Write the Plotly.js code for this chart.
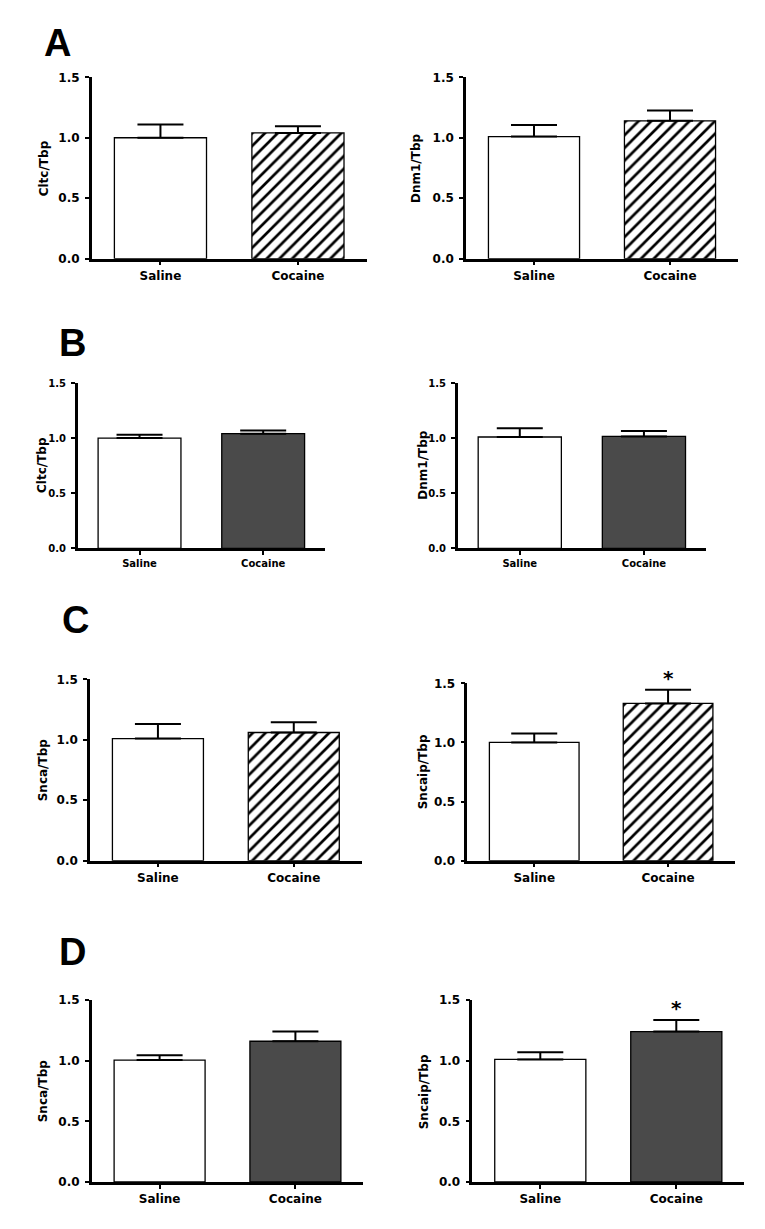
<!DOCTYPE html>
<html>
<head>
<meta charset="utf-8">
<script src="https://cdn.plot.ly/plotly-3.0.1.min.js"></script>
<style>html,body{margin:0;padding:0;background:#fff;}#chart{width:765px;height:1229px;}</style>
</head>
<body>
<div id="chart"></div>
<script>
// ---- data ----
const categories = ['Saline', 'Cocaine'];
const panelLetters = ['A', 'B', 'C', 'D'];
const yTitles = ['Cltc/Tbp', 'Dnm1/Tbp', 'Cltc/Tbp', 'Dnm1/Tbp', 'Snca/Tbp', 'Sncaip/Tbp', 'Snca/Tbp', 'Sncaip/Tbp'];
const yTickVals = [0, 0.5, 1.0, 1.5];
const yTickText = ['0.0', '0.5', '1.0', '1.5'];

const meanCltcA = [1.00, 1.04];
const semCltcA = [0.11, 0.055];
const meanDnm1A = [1.01, 1.14];
const semDnm1A = [0.095, 0.085];
const meanCltcB = [1.00, 1.04];
const semCltcB = [0.03, 0.03];
const meanDnm1B = [1.01, 1.015];
const semDnm1B = [0.08, 0.05];
const meanSncaC = [1.01, 1.06];
const semSncaC = [0.12, 0.085];
const meanSncaipC = [1.00, 1.33];
const semSncaipC = [0.075, 0.115];
const meanSncaD = [1.005, 1.16];
const semSncaD = [0.04, 0.08];
const meanSncaipD = [1.01, 1.24];
const semSncaipD = [0.06, 0.095];
const sigSncaipC = ['', '*'];
const sigSncaipD = ['', '*'];

// ---- layout helpers (pixel geometry) ----
const W = 765, H = 1229;
const FONT = 'DejaVu Sans, Arial, sans-serif';
const boxes = [ // [left, right, top, bottom] in px
  [91.7, 366.7, 77.3, 258.7],
  [466, 738, 77.3, 258.7],
  [77.7, 325, 383, 548.3],
  [457.7, 706, 383, 548.3],
  [90, 361.7, 679.3, 860.7],
  [467.3, 735, 683.3, 860.7],
  [91.7, 363.3, 1000, 1182],
  [472.3, 744.3, 1000, 1182]
];
const titlePos = [[44.3,168],[416,168],[42,465],[422.7,465],[43.3,770],[423.3,772],[43.3,1091],[424.3,1092]];
const letterPos = [[57,43],[72,343],[75,620],[72,952]];
const tickSize = [12,12,10,10,12,12,12,12];
const titleSize = [12,12,12,12,12,12,12,12];

const series = [
  {m: meanCltcA, s: semCltcA, style: 'hatch', sig: ['', '']},
  {m: meanDnm1A, s: semDnm1A, style: 'hatch', sig: ['', '']},
  {m: meanCltcB, s: semCltcB, style: 'dark', sig: ['', '']},
  {m: meanDnm1B, s: semDnm1B, style: 'dark', sig: ['', '']},
  {m: meanSncaC, s: semSncaC, style: 'hatch', sig: ['', '']},
  {m: meanSncaipC, s: semSncaipC, style: 'hatch', sig: sigSncaipC},
  {m: meanSncaD, s: semSncaD, style: 'dark', sig: ['', '']},
  {m: meanSncaipD, s: semSncaipD, style: 'dark', sig: sigSncaipD}
];

const data = [];
const layout = {
  width: W, height: H,
  margin: {l: 0, r: 0, t: 0, b: 0},
  paper_bgcolor: '#fff', plot_bgcolor: '#fff',
  showlegend: false,
  barmode: 'overlay',
  font: {family: FONT, color: '#000'},
  annotations: []
};

series.forEach((d, i) => {
  const n = i + 1;
  const xa = n === 1 ? 'x' : 'x' + n;
  const ya = n === 1 ? 'y' : 'y' + n;
  const b = boxes[i];
  const hatch = d.style === 'hatch';
  categories.forEach((c, k) => {
    const isCoc = k === 1;
    const marker = {
      color: isCoc && !hatch ? '#4a4a4a' : '#ffffff',
      line: {color: '#000', width: 1.3}
    };
    if (isCoc && hatch) {
      marker.pattern = {shape: '/', fgcolor: '#000', bgcolor: '#ffffff', size: 9, solidity: 0.3, fillmode: 'replace'};
    }
    data.push({
      type: 'bar',
      name: c,
      x: [k],
      y: [d.m[k]],
      width: 0.67,
      xaxis: xa, yaxis: ya,
      marker: marker,
      error_y: {type: 'data', array: [d.s[k]], arrayminus: [0], symmetric: false, color: '#000', thickness: 2, width: 23},
      cliponaxis: false,
      hoverinfo: 'skip'
    });
  });
  const axCommon = {
    showline: true, linecolor: '#000', linewidth: 2.5,
    ticks: 'outside', ticklen: 4, tickwidth: 2, tickcolor: '#000',
    showgrid: false, zeroline: false, fixedrange: true,
    tickfont: {family: FONT, size: tickSize[i], weight: 700, color: '#000'}
  };
  layout['xaxis' + (n === 1 ? '' : n)] = Object.assign({}, axCommon, {
    domain: [b[0] / W, b[1] / W], anchor: ya,
    range: [-0.5, 1.5], tickvals: [0, 1], ticktext: categories
  });
  layout['yaxis' + (n === 1 ? '' : n)] = Object.assign({}, axCommon, {
    domain: [1 - b[3] / H, 1 - b[2] / H], anchor: xa,
    range: [0, 1.5], tickvals: yTickVals, ticktext: yTickText,
    ticklabelstandoff: 3
  });
  layout.annotations.push({
    xref: 'paper', yref: 'paper',
    x: titlePos[i][0] / W, y: 1 - titlePos[i][1] / H,
    xanchor: 'center', yanchor: 'middle', textangle: -90,
    text: yTitles[i], showarrow: false,
    font: {family: FONT, size: titleSize[i], weight: 700, color: '#000'}
  });
  d.sig.forEach((t, k) => {
    if (!t) return;
    layout.annotations.push({
      xref: xa, yref: ya, x: k, y: d.m[k] + d.s[k],
      xanchor: 'center', yanchor: 'bottom', yshift: -2,
      text: t, showarrow: false,
      font: {family: FONT, size: 20, weight: 700, color: '#000'}
    });
  });
});

panelLetters.forEach((L, i) => {
  layout.annotations.push({
    xref: 'paper', yref: 'paper',
    x: letterPos[i][0] / W, y: 1 - letterPos[i][1] / H,
    xanchor: 'center', yanchor: 'middle',
    text: L, showarrow: false,
    font: {family: 'Liberation Sans, Arial, sans-serif', size: 38, weight: 700, color: '#000'}
  });
});

Plotly.newPlot('chart', data, layout, {displayModeBar: false});
</script>
</body>
</html>
